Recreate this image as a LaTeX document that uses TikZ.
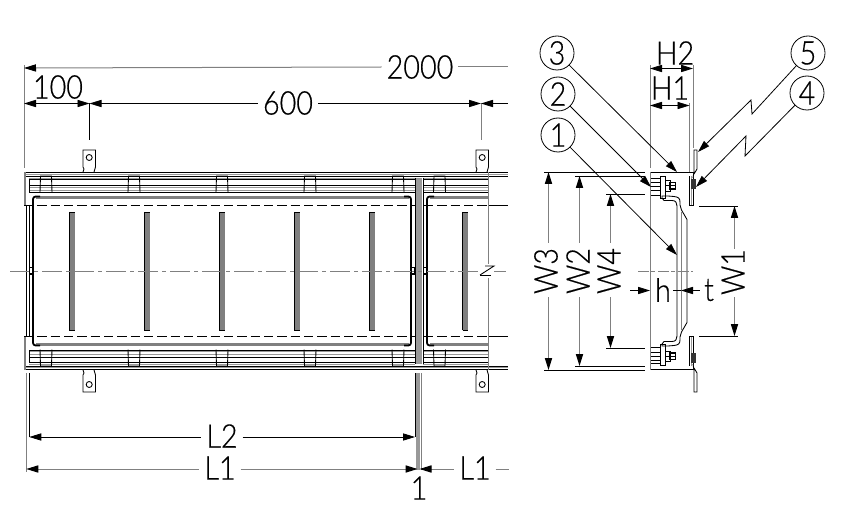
\documentclass[tikz,border=0pt]{standalone}
\usepackage{fontspec}
\setmainfont{Lato Light}[FakeStretch=0.88,FakeBold=0.4]
\usetikzlibrary{arrows.meta}
\definecolor{lg}{gray}{0.5}
\definecolor{mg}{gray}{0.6}
\tikzset{
  x=0.75pt,y=-0.75pt,
  bk/.style={draw=black,line width=0.65pt},
  gr/.style={draw=lg,line width=0.75pt},
  grl/.style={draw=mg,line width=0.6pt},
  hv/.style={draw=black,line width=1.4pt,line join=round,rounded corners=2pt},
  band/.style={draw=lg,line width=1.8pt},
  dim/.style={draw=black,line width=0.6pt},
  dimg/.style={draw=lg,line width=0.75pt},
  ah/.style={{Triangle[length=9pt,width=5.4pt,black]}-},
  ha/.style={-{Triangle[length=9pt,width=5.4pt,black]}},
  ahh/.style={{Triangle[length=9pt,width=5.4pt,black]}-{Triangle[length=9pt,width=5.4pt,black]}},
  lab/.style={font=\fontsize{24.5}{26}\selectfont,inner sep=3.6pt,text=black},
  ball/.style={circle,draw=black,line width=0.6pt,minimum size=25.5pt,inner sep=0pt,font=\fontsize{24.5}{26}\selectfont},
  lead/.style={draw=black,line width=0.6pt},
}
\newcommand{\mytab}[1]{%
  \begin{scope}[xshift=#1*0.75pt]
    \draw[bk,fill=white] (0,172)--(1,169)--(0,167)--(0,150)--(12.5,150)--(12.5,167)--(11,172);
    \draw[bk] (6.2,157.5) circle[radius=3];
  \end{scope}}
\newcommand{\myclip}[1]{%
  \draw[bk] (#1-0.5,192.5)--(#1,176)--(#1+11,176)--(#1+11.5,192.5);}
\newcommand{\myhalf}{%
  % long rails
  \draw[bk] (24,172.5)--(508,172.5);
  \draw[grl] (24,174.3)--(508,174.3);
  \draw[bk] (24,176)--(508,176);
  \foreach \yy in {179.5,185,192}{
    \draw[bk] (29,\yy)--(415,\yy);
    \draw[bk] (423,\yy)--(488,\yy);}
  \foreach \yy in {178,187.5,190.5}{
    \draw[grl] (29,\yy)--(415,\yy);
    \draw[grl] (423,\yy)--(488,\yy);}
  % clips
  \foreach \cx in {40.5,128.5,216.5,304.5,392.5,434}{\myclip{\cx}}
  % left end band
  \draw[band] (25,172)--(25,205);
  \draw[bk] (29,179)--(29,192.5);
  % panel tops
  \draw[band] (36,197.5)--(409,197.5);
  \draw[band] (430,197.5)--(488,197.5);
  \draw[hv] (33,214)--(33,196.5)--(40,196.5);
  \draw[hv] (411,214)--(411,196.5)--(404,196.5);
  \draw[hv] (427,214)--(427,196.5)--(434,196.5);
  % dashed
  \draw[bk,dash pattern=on 7pt off 3pt] (24,205.5)--(488,205.5);
  \draw[bk] (488,205.5)--(508,205.5);
  % end line
  \draw[gr] (488,172.5)--(488,264);
  % slotted bars
  \foreach \bx in {69,144,219,294,369,462.5}{
    \fill[lg] (\bx,212)--(\bx+5.5,212)--(\bx+5.5,271)--(\bx,271)--cycle;
    \draw[bk] (\bx,212)--(\bx+5.5,212);
    \draw[bk] (\bx,212)--(\bx,271);
  }
  \foreach \ttx in {83,476}{\mytab{\ttx}}
  % --- section view half ---
  \draw[bk] (650,172.7)--(693,172.7)--(693,205.5)--(689.5,205.5)--(689.5,176);
  \draw[grl] (691.2,176)--(691.2,205);
  % tab
  \draw[bk,fill=white] (693,178)--(694,172)--(694,150)--(697,150)--(697,169)--(694,174);
  % nut on back
  \fill[black!80] (690.5,179) rectangle (695.5,189);
  % bolt
  \draw[bk,fill=white] (650,178.5) rectangle (660,195);
  \foreach \yy in {182,186,190}{\draw[bk] (650,\yy)--(660,\yy);}
  \draw[bk,fill=white] (660,176.5) rectangle (665,198);
  \draw[bk,fill=white] (665,180.5) rectangle (670,191);
  \draw[draw=black,line width=1.1pt,fill=white] (670,182.5) rectangle (675.5,189);
  \draw[bk] (665,185.5)--(675.5,185.5);
  % panel profile
  \draw[bk] (662,198)--(662,196)--(668,196)--(674,196.5) .. controls (678,197) and (680,198) .. (680,202)--(680,205) .. controls (680,207) and (680,208) .. (681.5,210)--(687,219.5)--(687,271);
  \draw[bk] (662,198)--(664,200.5)--(672,200.5) .. controls (676,200.5) and (677,203) .. (677,206)--(677,271);
  \draw[gr] (681,212)--(681,271);
}
\begin{document}
\begin{tikzpicture}
\useasboundingbox (0,0) rectangle (850,531);
\fill[white] (0,0) rectangle (850,531);
\myhalf
\begin{scope}[shift={(0,542)},yscale=-1]
\myhalf
\end{scope}
% left end lines
\draw[bk] (26.3,205)--(26.3,337);
\draw[bk] (29.3,205)--(29.3,337);
\draw[hv] (33,214)--(33,328);
\draw[hv] (411,214)--(411,328);
\draw[hv] (427,214)--(427,328);
% joint
\fill[mg] (416.3,178) rectangle (421.7,364);
\draw[bk] (415,178)--(415,364);
\draw[bk] (423,178)--(423,364);
% centre line
\draw[gr,dash pattern=on 15pt off 3pt on 3pt off 3pt] (10,271)--(480,271);
\draw[gr] (494,271)--(506,271);
\draw[bk] (480,275)--(494,266)--(485,266);
\draw[bk] (480,275)--(491,275);
% joint marks
\foreach \mx in {31,413,425}{\draw[black,line width=0.9pt] (\mx-1.5,267.5) rectangle (\mx+1.5,274);}
% extension lines main view
\coordinate (e0) at (24,65);   \coordinate (e0b) at (24,168);
\coordinate (e1) at (89.5,103); \coordinate (e1b) at (89.5,140);
\coordinate (e2) at (481,103);  \coordinate (e2b) at (481,140);
\coordinate (e3) at (508,68);   \coordinate (e4) at (508,103.5);
\draw[gr] (e0)--(e0b);
\draw[bk] (e1)--(e1b);
\draw[gr] (e2)--(e2b);
\node[lab] (t2000) at (420,67) {2000};
\node[lab] (t600) at (288,103) {600};
\node[lab,anchor=center,inner sep=0pt] (t100) at (58,87) {100};
\draw[dimg,ah] (24,68)--(t2000.west);
\draw[dimg] (t2000.east)--(e3|-t2000.east);
\draw[dim,ah] (89.5,103.5)--(t600.west|-89.5,103.5);
\draw[dim,ha] (t600.east|-89.5,103.5)--(481,103.5);
\draw[dim,ah] (481,103.5)--(e4);
\draw[dim,ahh] (24,103.5)--(89.5,103.5);
% lower dims
\coordinate (f1) at (26.3,373); \coordinate (f1b) at (26.3,472);
\coordinate (f2) at (29.3,373); \coordinate (f2b) at (29.3,437);
\draw[gr] (f1)--(f1b);
\draw[bk] (f2)--(f2b);
\draw[bk] (415,373)--(415,437);
\fill[mg] (416.3,373) rectangle (420,470);
\draw[gr] (421,373)--(421,470);
\node[lab] (tL2) at (222,436) {L2};
\node[lab] (tL1) at (220,468) {L1};
\node[lab] (tL1b) at (475,468) {L1};
\node[lab,inner sep=0pt] (tOne) at (419,488) {1};
\draw[dim,ah] (29.3,437)--(tL2.west|-29.3,437);
\draw[dim,ha] (tL2.east|-29.3,437)--(415,437);
\draw[dimg,ah] (26.3,469)--(tL1.west|-26.3,469);
\draw[dimg,ha] (tL1.east|-26.3,469)--(417.5,469);
\draw[dimg,ah] (419.5,469)--(tL1b.west|-26.3,469);
\draw[dimg] (tL1b.east|-26.3,469)--(509,469);
% section view
\draw[gr] (650,65)--(650,168);
\draw[gr] (650,172)--(650,370);
\draw[gr] (689.5,103)--(689.5,172);
\draw[gr] (693,65)--(693,148);
\node[lab,inner sep=0pt] (tH2) at (675,53) {H2};
\node[lab,inner sep=0pt] (tH1) at (670,88) {H1};
\draw[dim,ahh] (650,68.5)--(693,68.5);
\draw[dim,ahh] (650,105.5)--(689.5,105.5);
% W dims
\foreach \yy/\xs in {172/544,176/575,194/606,348/606,366/575,370/544}{\draw[bk] (\xs,\yy)--(645,\yy);}
\draw[bk] (699,206)--(738,206);
\draw[bk] (699,336)--(738,336);
\node[lab,rotate=90] (tW3) at (546,271) {W3};
\node[lab,rotate=90] (tW2) at (578,271) {W2};
\node[lab,rotate=90] (tW4) at (609,271) {W4};
\node[lab,rotate=90] (tW1) at (733,272) {W1};
\draw[dimg,ah] (548.5,172)--(548.5,243);
\draw[dimg,ha] (548.5,297)--(548.5,370);
\draw[dimg,ah] (579.5,176)--(579.5,243);
\draw[dimg,ha] (579.5,297)--(579.5,366);
\draw[dimg,ah] (610.5,194)--(610.5,243);
\draw[dimg,ha] (610.5,297)--(610.5,348);
\draw[dimg,ah] (734.5,206)--(734.5,249);
\draw[dimg,ha] (734.5,297)--(734.5,336);
% h / t
\node[lab,inner sep=0pt] (th) at (663,290) {h};
\node[lab,inner sep=0pt] (tt) at (709,290) {t};
\draw[dim,ha] (630,290.5)--(650,290.5);
\draw[dim,ah] (681,290.5)--(700,290.5);
\draw[dim] (673,290.5)--(681,290.5);
\draw[gr,dash pattern=on 8pt off 2pt on 3pt off 2pt] (638,271)--(693,271);
% balloons
\node[ball] (c3) at (557,53) {3};
\node[ball] (c2) at (558,94) {2};
\node[ball] (c1) at (558,135) {1};
\node[ball] (c5) at (808,53) {5};
\node[ball] (c4) at (807,93) {4};
\coordinate (p3) at (677,172);
\coordinate (p2) at (651,187);
\coordinate (p1) at (677,255);
\coordinate (j5a) at (752,114); \coordinate (j5b) at (751,100); \coordinate (p5) at (698,152);
\coordinate (j4a) at (745,156); \coordinate (j4b) at (746,136); \coordinate (p4) at (696,187);
\draw[lead,ha] (c3)--(p3);
\draw[lead,ha] (c2)--(p2);
\draw[lead,ha] (c1)--(p1);
\draw[lead,ha] (c5)--(j5a)--(j5b)--(p5);
\draw[lead,ha] (c4)--(j4a)--(j4b)--(p4);
\end{tikzpicture}
\end{document}
